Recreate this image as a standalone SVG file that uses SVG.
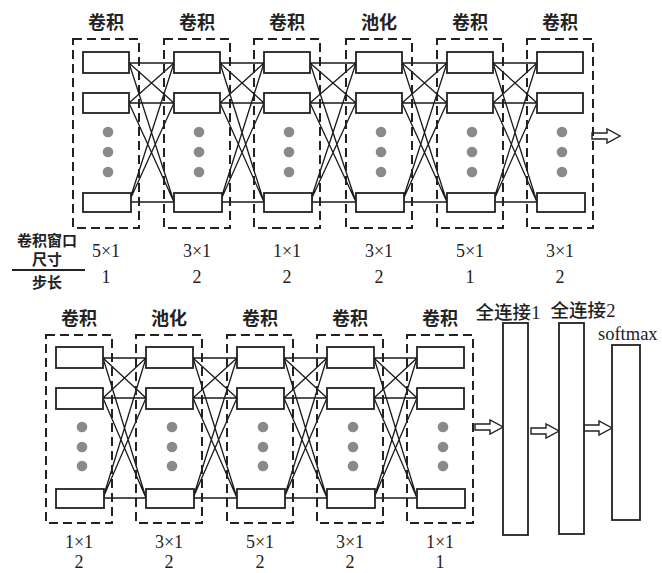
<svg xmlns="http://www.w3.org/2000/svg" xmlns:xlink="http://www.w3.org/1999/xlink" width="662" height="573" viewBox="0 0 662 573">
<defs>
<style>
.dash{fill:none;stroke:#222;stroke-width:2;stroke-dasharray:9 5}
.cell{fill:#fff;stroke:#222;stroke-width:1.8}
.dot{fill:#8a8a8a}
.ln{stroke:#1a1a1a;stroke-width:1.3;fill:none}
.cn{font-family:"Noto Sans CJK SC","Noto Sans",sans-serif;font-weight:bold;font-size:18px;fill:#222;text-anchor:middle}
.num{font-family:"Liberation Serif",serif;font-size:18px;fill:#222;text-anchor:middle}
.fc{fill:#fff;stroke:#222;stroke-width:1.8}
.arr{fill:#fff;stroke:#222;stroke-width:1.4;stroke-linejoin:miter}
</style>
<path id="arrow" class="arr" d="M0,-3 H15 V-7 L28,0 L15,7 V3 H0 Z"/>
</defs>
<rect width="662" height="573" fill="#fff"/>

<!-- connectors -->
<g id="connectors">
<g id="top-links">
<path class="ln" d="M129,63L174,63M129,63L174,103M129,63L174,202M129,103L174,63M129,103L174,103M129,103L174,202M129,202L174,63M129,202L174,103M129,202L174,202"/>
<path class="ln" d="M220,63L264,63M220,63L264,103M220,63L264,202M220,103L264,63M220,103L264,103M220,103L264,202M220,202L264,63M220,202L264,103M220,202L264,202"/>
<path class="ln" d="M310,63L356,63M310,63L356,103M310,63L356,202M310,103L356,63M310,103L356,103M310,103L356,202M310,202L356,63M310,202L356,103M310,202L356,202"/>
<path class="ln" d="M402,63L447,63M402,63L447,103M402,63L447,202M402,103L447,63M402,103L447,103M402,103L447,202M402,202L447,63M402,202L447,103M402,202L447,202"/>
<path class="ln" d="M493,63L537,63M493,63L537,103M493,63L537,202M493,103L537,63M493,103L537,103M493,103L537,202M493,202L537,63M493,202L537,103M493,202L537,202"/>
</g>
<g id="bottom-links">
<path class="ln" d="M103,358L146,358M103,358L146,398M103,358L146,498M103,398L146,358M103,398L146,398M103,398L146,498M103,498L146,358M103,498L146,398M103,498L146,498"/>
<path class="ln" d="M193,358L237,358M193,358L237,398M193,358L237,498M193,398L237,358M193,398L237,398M193,398L237,498M193,498L237,358M193,498L237,398M193,498L237,498"/>
<path class="ln" d="M284,358L327,358M284,358L327,398M284,358L327,498M284,398L327,358M284,398L327,398M284,398L327,498M284,498L327,358M284,498L327,398M284,498L327,498"/>
<path class="ln" d="M374,358L417,358M374,358L417,398M374,358L417,498M374,398L417,358M374,398L417,398M374,398L417,498M374,498L417,358M374,498L417,398M374,498L417,498"/>
</g>
<use xlink:href="#arrow" href="#arrow" x="592" y="136"/>
<use xlink:href="#arrow" href="#arrow" x="475" y="427"/>
<use xlink:href="#arrow" href="#arrow" x="531" y="431"/>
<use xlink:href="#arrow" href="#arrow" x="584" y="428"/>
</g>

<!-- top row layers -->
<g id="t1">
<text class="cn" x="106" y="29">卷积</text>
<rect class="dash" x="73" y="39" width="66" height="189"/>
<rect class="cell" x="83" y="52" width="46" height="21"/>
<rect class="cell" x="83" y="93" width="46" height="20"/>
<circle class="dot" cx="108" cy="132" r="5.3"/><circle class="dot" cx="108" cy="152" r="5.3"/><circle class="dot" cx="108" cy="172" r="5.3"/>
<rect class="cell" x="83" y="193" width="48" height="19"/>
<text class="num" x="106" y="257">5×1</text><text class="num" x="106" y="283">1</text>
</g>
<g id="t2">
<text class="cn" x="197" y="29">卷积</text>
<rect class="dash" x="164" y="39" width="66" height="189"/>
<rect class="cell" x="174" y="52" width="46" height="21"/>
<rect class="cell" x="174" y="93" width="46" height="20"/>
<circle class="dot" cx="199" cy="132" r="5.3"/><circle class="dot" cx="199" cy="152" r="5.3"/><circle class="dot" cx="199" cy="172" r="5.3"/>
<rect class="cell" x="174" y="193" width="48" height="19"/>
<text class="num" x="197" y="257">3×1</text><text class="num" x="197" y="283">2</text>
</g>
<g id="t3">
<text class="cn" x="287" y="29">卷积</text>
<rect class="dash" x="254" y="39" width="66" height="189"/>
<rect class="cell" x="264" y="52" width="46" height="21"/>
<rect class="cell" x="264" y="93" width="46" height="20"/>
<circle class="dot" cx="289" cy="132" r="5.3"/><circle class="dot" cx="289" cy="152" r="5.3"/><circle class="dot" cx="289" cy="172" r="5.3"/>
<rect class="cell" x="264" y="193" width="48" height="19"/>
<text class="num" x="287" y="257">1×1</text><text class="num" x="287" y="283">2</text>
</g>
<g id="t4">
<text class="cn" x="379" y="29">池化</text>
<rect class="dash" x="346" y="39" width="66" height="189"/>
<rect class="cell" x="356" y="52" width="46" height="21"/>
<rect class="cell" x="356" y="93" width="46" height="20"/>
<circle class="dot" cx="381" cy="132" r="5.3"/><circle class="dot" cx="381" cy="152" r="5.3"/><circle class="dot" cx="381" cy="172" r="5.3"/>
<rect class="cell" x="356" y="193" width="48" height="19"/>
<text class="num" x="379" y="257">3×1</text><text class="num" x="379" y="283">2</text>
</g>
<g id="t5">
<text class="cn" x="470" y="29">卷积</text>
<rect class="dash" x="437" y="39" width="66" height="189"/>
<rect class="cell" x="447" y="52" width="46" height="21"/>
<rect class="cell" x="447" y="93" width="46" height="20"/>
<circle class="dot" cx="472" cy="132" r="5.3"/><circle class="dot" cx="472" cy="152" r="5.3"/><circle class="dot" cx="472" cy="172" r="5.3"/>
<rect class="cell" x="447" y="193" width="48" height="19"/>
<text class="num" x="470" y="257">5×1</text><text class="num" x="470" y="283">1</text>
</g>
<g id="t6">
<text class="cn" x="560" y="29">卷积</text>
<rect class="dash" x="527" y="39" width="66" height="189"/>
<rect class="cell" x="537" y="52" width="46" height="21"/>
<rect class="cell" x="537" y="93" width="46" height="20"/>
<circle class="dot" cx="562" cy="132" r="5.3"/><circle class="dot" cx="562" cy="152" r="5.3"/><circle class="dot" cx="562" cy="172" r="5.3"/>
<rect class="cell" x="537" y="193" width="48" height="19"/>
<text class="num" x="560" y="257">3×1</text><text class="num" x="560" y="283">2</text>
</g>

<!-- legend -->
<g id="legend">
<text class="cn" x="47" y="246" style="font-size:15px">卷积窗口</text>
<text class="cn" x="47" y="265" style="font-size:15px">尺寸</text>
<line x1="12" y1="270" x2="85" y2="270" stroke="#222" stroke-width="2"/>
<text class="cn" x="47" y="288" style="font-size:15px">步长</text>
</g>

<!-- bottom row layers -->
<g id="b1">
<text class="cn" x="79" y="325">卷积</text>
<rect class="dash" x="46" y="335" width="66" height="188"/>
<rect class="cell" x="56" y="347" width="47" height="21"/>
<rect class="cell" x="56" y="388" width="47" height="21"/>
<circle class="dot" cx="82" cy="427" r="5.3"/><circle class="dot" cx="82" cy="447" r="5.3"/><circle class="dot" cx="82" cy="466" r="5.3"/>
<rect class="cell" x="56" y="489" width="48" height="19"/>
<text class="num" x="79" y="548">1×1</text><text class="num" x="79" y="568">2</text>
</g>
<g id="b2">
<text class="cn" x="169" y="325">池化</text>
<rect class="dash" x="136" y="335" width="66" height="188"/>
<rect class="cell" x="146" y="347" width="47" height="21"/>
<rect class="cell" x="146" y="388" width="47" height="21"/>
<circle class="dot" cx="172" cy="427" r="5.3"/><circle class="dot" cx="172" cy="447" r="5.3"/><circle class="dot" cx="172" cy="466" r="5.3"/>
<rect class="cell" x="146" y="489" width="48" height="19"/>
<text class="num" x="169" y="548">3×1</text><text class="num" x="169" y="568">2</text>
</g>
<g id="b3">
<text class="cn" x="260" y="325">卷积</text>
<rect class="dash" x="227" y="335" width="66" height="188"/>
<rect class="cell" x="237" y="347" width="47" height="21"/>
<rect class="cell" x="237" y="388" width="47" height="21"/>
<circle class="dot" cx="263" cy="427" r="5.3"/><circle class="dot" cx="263" cy="447" r="5.3"/><circle class="dot" cx="263" cy="466" r="5.3"/>
<rect class="cell" x="237" y="489" width="48" height="19"/>
<text class="num" x="260" y="548">5×1</text><text class="num" x="260" y="568">2</text>
</g>
<g id="b4">
<text class="cn" x="350" y="325">卷积</text>
<rect class="dash" x="317" y="335" width="66" height="188"/>
<rect class="cell" x="327" y="347" width="47" height="21"/>
<rect class="cell" x="327" y="388" width="47" height="21"/>
<circle class="dot" cx="353" cy="427" r="5.3"/><circle class="dot" cx="353" cy="447" r="5.3"/><circle class="dot" cx="353" cy="466" r="5.3"/>
<rect class="cell" x="327" y="489" width="48" height="19"/>
<text class="num" x="350" y="548">3×1</text><text class="num" x="350" y="568">2</text>
</g>
<g id="b5">
<text class="cn" x="440" y="325">卷积</text>
<rect class="dash" x="407" y="335" width="66" height="188"/>
<rect class="cell" x="417" y="347" width="47" height="21"/>
<rect class="cell" x="417" y="388" width="47" height="21"/>
<circle class="dot" cx="443" cy="427" r="5.3"/><circle class="dot" cx="443" cy="447" r="5.3"/><circle class="dot" cx="443" cy="466" r="5.3"/>
<rect class="cell" x="417" y="489" width="48" height="19"/>
<text class="num" x="440" y="548">1×1</text><text class="num" x="440" y="568">1</text>
</g>

<!-- fully connected layers -->
<g id="fc1">
<text class="cn" x="508" y="319" style="font-weight:500;font-size:18.5px">全连接<tspan style="font-family:'Liberation Serif',serif">1</tspan></text>
<rect class="fc" x="503" y="323" width="25" height="212"/>
</g>
<g id="fc2">
<text class="cn" x="583" y="317" style="font-weight:500;font-size:18.5px">全连接<tspan style="font-family:'Liberation Serif',serif">2</tspan></text>
<rect class="fc" x="559" y="323" width="25" height="211"/>
</g>
<g id="softmax">
<text class="num" x="598" y="340" style="font-size:18.5px;text-anchor:start">softmax</text>
<rect class="fc" x="612" y="345" width="28" height="175"/>
</g>
</svg>
